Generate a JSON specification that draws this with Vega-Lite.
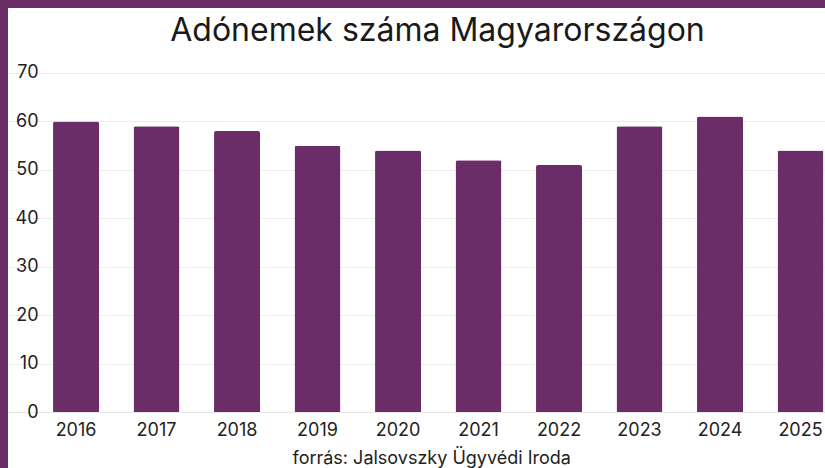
{
  "$schema": "https://vega.github.io/schema/vega-lite/v6.json",
  "width": 817,
  "height": 460,
  "autosize": "none",
  "padding": {"left": 8, "top": 8, "right": 0, "bottom": 0},
  "background": "#6a2d67",
  "config": {
    "view": {"fill": "white", "stroke": null},
    "font": "Inter"
  },
  "title": {
    "text": "Adónemek száma Magyarországon",
    "fontSize": 32,
    "fontWeight": "normal",
    "font": "Inter",
    "color": "#1a1a1a",
    "anchor": "middle",
    "baseline": "alphabetic",
    "offset": -34,
    "dy": 31,
    "dx": 21
  },
  "data": {
    "values": [
      {"year": "2016", "count": 60},
      {"year": "2017", "count": 59},
      {"year": "2018", "count": 58},
      {"year": "2019", "count": 55},
      {"year": "2020", "count": 54},
      {"year": "2021", "count": 52},
      {"year": "2022", "count": 51},
      {"year": "2023", "count": 59},
      {"year": "2024", "count": 61},
      {"year": "2025", "count": 54}
    ]
  },
  "mark": {"type": "bar", "color": "#6a2d67", "cornerRadiusTopLeft": 2, "cornerRadiusTopRight": 2},
  "encoding": {
    "x": {
      "field": "year",
      "type": "nominal",
      "sort": null,
      "scale": {"paddingInner": 0.4286, "paddingOuter": 0.289, "align": 0.968},
      "axis": {
        "orient": "bottom",
        "offset": -56,
        "labelAngle": 0,
        "labelFontSize": 18,
        "labelColor": "#222222",
        "labelPadding": 9,
        "ticks": false,
        "domain": true,
        "domainColor": "#e6e6e6",
        "title": "forrás: Jalsovszky Ügyvédi Iroda",
        "titleFontSize": 18,
        "titleFontWeight": "normal",
        "titleColor": "#222222",
        "titlePadding": 10,
        "titleAnchor": "start",
        "titleX": 284
      }
    },
    "y": {
      "field": "count",
      "type": "quantitative",
      "scale": {"domain": [-11.56, 83.42], "nice": false, "zero": false},
      "axis": {
        "orient": "left",
        "offset": -45,
        "values": [0, 10, 20, 30, 40, 50, 60, 70],
        "labelFontSize": 18,
        "labelColor": "#222222",
        "labelPadding": 15,
        "ticks": false,
        "domain": false,
        "grid": true,
        "gridColor": "#ececec",
        "title": null
      }
    }
  }
}
